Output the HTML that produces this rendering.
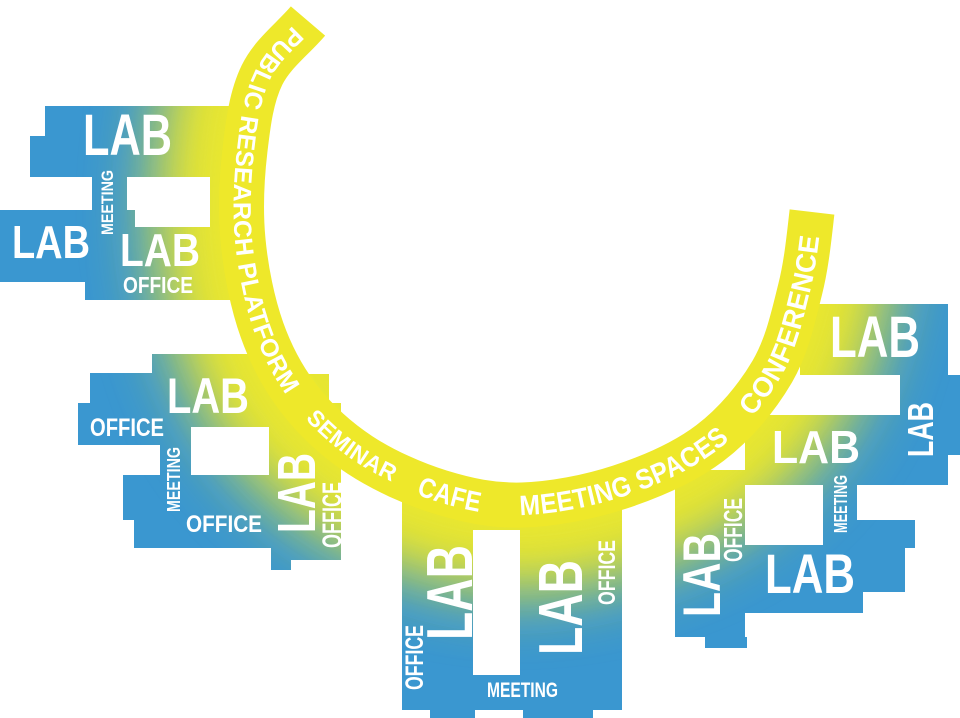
<!DOCTYPE html>
<html><head><meta charset="utf-8"><style>
html,body{margin:0;padding:0;background:#fff;}
svg{display:block;}
text{font-family:"Liberation Sans Narrow","Liberation Sans",sans-serif;font-weight:bold;fill:#fff;}
</style></head><body>
<svg width="960" height="718" viewBox="0 0 960 718" xmlns="http://www.w3.org/2000/svg">
<defs>
<path id="arc" d="M308,21 C292.7,39 272.5,53.5 262,75 C251.5,96.5 248.2,122.5 245,150 C241.8,177.5 240.2,210 243,240 C245.8,270 252.5,303.3 262,330 C271.5,356.7 283.7,379.2 300,400 C316.3,420.8 336.7,439.7 360,455 C383.3,470.3 413,483.7 440,492 C467,500.3 492,505.8 522,505 C552,504.2 588.7,497.3 620,487 C651.3,476.7 684.7,462.2 710,443 C735.3,423.8 757,397.5 772,372 C787,346.5 793.3,316.7 800,290 C806.5,264.5 809,238 812,212"/>
<g id="blues">
<rect x="45" y="106" width="215" height="30"/>
<rect x="30" y="136" width="230" height="41"/>
<rect x="92" y="177" width="35" height="33"/>
<rect x="210" y="177" width="50" height="50"/>
<rect x="0" y="210" width="127" height="72"/>
<rect x="127" y="210" width="8" height="17"/>
<rect x="85" y="227" width="175" height="73"/>
<rect x="152" y="354" width="130" height="20"/>
<rect x="90" y="373" width="200" height="30"/>
<rect x="269" y="374" width="60" height="30"/>
<rect x="78" y="403" width="113" height="42"/>
<rect x="191" y="403" width="80" height="24"/>
<rect x="269" y="403" width="72" height="145"/>
<rect x="160" y="445" width="31" height="30"/>
<rect x="123" y="475" width="218" height="45"/>
<rect x="134" y="520" width="207" height="28"/>
<rect x="271" y="548" width="70" height="12"/>
<rect x="271" y="560" width="20" height="10"/>
<rect x="402" y="490" width="220" height="40"/>
<rect x="402" y="530" width="71" height="180"/>
<rect x="520" y="530" width="102" height="180"/>
<rect x="473" y="675" width="47" height="35"/>
<rect x="430" y="708" width="45" height="10"/>
<rect x="523" y="708" width="70" height="10"/>
<rect x="800" y="304" width="148" height="71"/>
<rect x="900" y="375" width="48" height="110"/>
<rect x="942" y="375" width="18" height="80"/>
<rect x="745" y="415" width="203" height="70"/>
<rect x="823" y="485" width="34" height="60"/>
<rect x="857" y="520" width="58" height="28"/>
<rect x="675" y="470" width="70" height="167"/>
<rect x="705" y="637" width="42" height="11"/>
<rect x="745" y="545" width="160" height="47"/>
<rect x="745" y="592" width="118" height="21"/>
</g>
<mask id="bm" maskUnits="userSpaceOnUse" x="0" y="0" width="960" height="718">
<use href="#blues" fill="#fff"/>
</mask>
<filter id="bl" filterUnits="userSpaceOnUse" x="0" y="0" width="960" height="718">
<feGaussianBlur stdDeviation="34"/>
</filter>
</defs>

<use href="#blues" fill="#3a97d0"/>
<g mask="url(#bm)">
<use href="#arc" fill="none" stroke="#eee82a" stroke-width="170" filter="url(#bl)"/>
<use href="#arc" fill="none" stroke="#e6e630" stroke-width="80" filter="url(#bl)" opacity="0.8"/>
</g>
<use href="#arc" fill="none" stroke="#eee82a" stroke-width="45"/>

<text font-size="25" dominant-baseline="central"><textPath href="#arc" startOffset="14" textLength="385" lengthAdjust="spacingAndGlyphs">PUBLIC RESEARCH PLATFORM</textPath></text>
<text font-size="23" dominant-baseline="central"><textPath href="#arc" startOffset="428" textLength="105" lengthAdjust="spacingAndGlyphs">SEMINAR</textPath></text>
<text font-size="28" dominant-baseline="central"><textPath href="#arc" startOffset="559" textLength="64" lengthAdjust="spacingAndGlyphs">CAFE</textPath></text>
<text font-size="28" dominant-baseline="central"><textPath href="#arc" startOffset="662" textLength="220" lengthAdjust="spacingAndGlyphs">MEETING SPACES</textPath></text>
<text font-size="28" dominant-baseline="central"><textPath href="#arc" startOffset="912" textLength="190" lengthAdjust="spacingAndGlyphs">CONFERENCE</textPath></text>

<text x="83" y="155" font-size="58" textLength="89" lengthAdjust="spacingAndGlyphs">LAB</text>
<text transform="translate(113,235) rotate(-90)" font-size="17" textLength="65" lengthAdjust="spacingAndGlyphs">MEETING</text>
<text x="12" y="258" font-size="46" textLength="78" lengthAdjust="spacingAndGlyphs">LAB</text>
<text x="120" y="266" font-size="46" textLength="80" lengthAdjust="spacingAndGlyphs">LAB</text>
<text x="123" y="293" font-size="23" textLength="70" lengthAdjust="spacingAndGlyphs">OFFICE</text>

<text x="167" y="413" font-size="50" textLength="82" lengthAdjust="spacingAndGlyphs">LAB</text>
<text x="90" y="436" font-size="25" textLength="74" lengthAdjust="spacingAndGlyphs">OFFICE</text>
<text transform="translate(180,512) rotate(-90)" font-size="18" textLength="65" lengthAdjust="spacingAndGlyphs">MEETING</text>
<text x="186" y="532" font-size="24" textLength="76" lengthAdjust="spacingAndGlyphs">OFFICE</text>
<text transform="translate(315,533) rotate(-90)" font-size="54" textLength="80" lengthAdjust="spacingAndGlyphs">LAB</text>
<text transform="translate(341,548) rotate(-90)" font-size="27" textLength="66" lengthAdjust="spacingAndGlyphs">OFFICE</text>

<text transform="translate(472,640) rotate(-90)" font-size="65" textLength="95" lengthAdjust="spacingAndGlyphs">LAB</text>
<text transform="translate(582,655) rotate(-90)" font-size="62" textLength="95" lengthAdjust="spacingAndGlyphs">LAB</text>
<text transform="translate(423,690) rotate(-90)" font-size="25" textLength="65" lengthAdjust="spacingAndGlyphs">OFFICE</text>
<text transform="translate(615,605) rotate(-90)" font-size="24" textLength="65" lengthAdjust="spacingAndGlyphs">OFFICE</text>
<text x="487" y="697" font-size="21" textLength="71" lengthAdjust="spacingAndGlyphs">MEETING</text>

<text x="830" y="357" font-size="58" textLength="90" lengthAdjust="spacingAndGlyphs">LAB</text>
<text transform="translate(933,457) rotate(-90)" font-size="36" textLength="55" lengthAdjust="spacingAndGlyphs">LAB</text>
<text x="772" y="463" font-size="46" textLength="88" lengthAdjust="spacingAndGlyphs">LAB</text>
<text transform="translate(847,533) rotate(-90)" font-size="18" textLength="58" lengthAdjust="spacingAndGlyphs">MEETING</text>
<text transform="translate(742,562) rotate(-90)" font-size="26" textLength="64" lengthAdjust="spacingAndGlyphs">OFFICE</text>
<text transform="translate(720,617) rotate(-90)" font-size="53" textLength="84" lengthAdjust="spacingAndGlyphs">LAB</text>
<text x="765" y="593" font-size="56" textLength="90" lengthAdjust="spacingAndGlyphs">LAB</text>
</svg>
</body></html>
